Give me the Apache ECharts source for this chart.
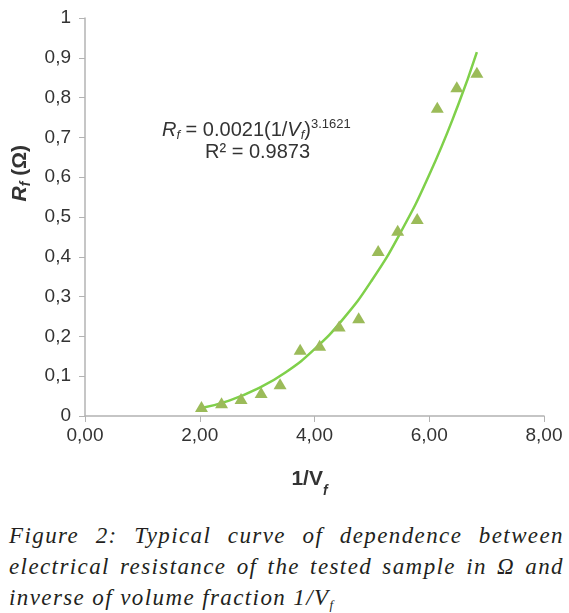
<!DOCTYPE html>
<html>
<head>
<meta charset="utf-8">
<script src="https://cdn.jsdelivr.net/npm/echarts@6/dist/echarts.min.js"></script>
<style>
  html, body { margin: 0; padding: 0; background: #fff; }
  #wrap { position: relative; width: 569px; height: 613px; overflow: hidden; }
  #chart { position: absolute; left: 0; top: 0; width: 569px; height: 505px; }
  #caption {
    position: absolute; left: 9px; top: 520px; width: 555px;
    font-family: "Liberation Serif", serif; font-style: italic;
    font-size: 23px; line-height: 31px; color: #231f20;
    text-align: justify; letter-spacing: 1.4px;
  }
  #caption sub { font-size: 13px; vertical-align: -4px; line-height: 0; }
</style>
</head>
<body>
<div id="wrap">
  <div id="chart"></div>
  <div id="caption">Figure 2: Typical curve of dependence between electrical resistance of the tested sample in &Omega; and inverse of volume fraction 1/V<sub>f</sub></div>
</div>
<script>
// measured points (1/Vf, Rf)
var invVf = [2.03, 2.38, 2.72, 3.07, 3.40, 3.75, 4.09, 4.43, 4.77, 5.11, 5.45, 5.79, 6.14, 6.48, 6.83]
var rf = [0.024, 0.033, 0.044, 0.059, 0.081, 0.168, 0.178, 0.226, 0.247, 0.416, 0.467, 0.496, 0.776, 0.827, 0.864]

// power trendline
var trendX = [2.03, 2.5, 3.0, 3.5, 4.0, 4.5, 5.0, 5.5, 6.0, 6.5, 6.83]
var trendY = [0.020, 0.038, 0.068, 0.110, 0.168, 0.244, 0.341, 0.461, 0.606, 0.780, 0.914]

var xTicks = ['0,00', '2,00', '4,00', '6,00', '8,00']
var yTicks = ['0', '0,1', '0,2', '0,3', '0,4', '0,5', '0,6', '0,7', '0,8', '0,9', '1']

var chart = echarts.init(document.getElementById('chart'))

var axisGray = '#b3b3b3'
var txt = '#333333'
var font = 'Liberation Sans'

chart.setOption({
  animation: false,
  textStyle: { fontFamily: font },
  grid: {
    left: 85,
    right: 25,
    top: 18,
    bottom: 89
  },
  xAxis: {
    type: 'value',
    min: 0,
    max: 8,
    interval: 2,
    name: '{b|1/V}{s|f}',
    nameLocation: 'middle',
    nameGap: 50,
    nameTextStyle: {
      padding: [0, 10, 0, 0],
      rich: {
        b: { fontFamily: font, fontWeight: 'bold', fontSize: 21, color: txt, lineHeight: 26, verticalAlign: 'middle' },
        s: { fontFamily: font, fontWeight: 'bold', fontStyle: 'italic', fontSize: 14, color: txt, verticalAlign: 'bottom', lineHeight: 14, padding: [0, 0, -6, 0] }
      }
    },
    axisLine: { lineStyle: { color: axisGray, width: 1.5 } },
    axisTick: { show: true, length: 6, lineStyle: { color: axisGray } },
    axisLabel: {
      fontSize: 19,
      color: txt,
      margin: 10,
      formatter: function (value) {
        return xTicks[Math.round(value / 2)]
      }
    },
    splitLine: { show: false }
  },
  yAxis: {
    type: 'value',
    min: 0,
    max: 1,
    interval: 0.1,
    axisLine: { show: true, lineStyle: { color: axisGray, width: 1.5 } },
    axisTick: { show: true, length: 6, lineStyle: { color: axisGray } },
    axisLabel: {
      fontSize: 19,
      color: txt,
      margin: 14,
      formatter: function (value) {
        return yTicks[Math.round(value * 10)]
      }
    },
    splitLine: { show: false }
  },
  graphic: [
    {
      type: 'text',
      left: 10,
      top: 145,
      rotation: Math.PI / 2,
      style: {
        text: '{r|R}{s|f}{b| (Ω)}',
        rich: {
          r: { fontFamily: font, fontWeight: 'bold', fontStyle: 'italic', fontSize: 21, fill: txt, lineHeight: 26 },
          s: { fontFamily: font, fontWeight: 'bold', fontStyle: 'italic', fontSize: 14, fill: txt, verticalAlign: 'bottom', lineHeight: 14 },
          b: { fontFamily: font, fontWeight: 'bold', fontSize: 21, fill: txt, lineHeight: 26 }
        }
      }
    },
    {
      type: 'text',
      left: 162,
      top: 118,
      style: {
        text: '{i|R}{s|f}{n| = 0.0021(1/}{i|V}{s|f}{n|)}{p|3.1621}',
        rich: {
          i: { fontFamily: font, fontStyle: 'italic', fontSize: 20, fill: txt, lineHeight: 24 },
          n: { fontFamily: font, fontSize: 20, fill: txt, lineHeight: 24 },
          s: { fontFamily: font, fontStyle: 'italic', fontSize: 13, fill: txt, verticalAlign: 'bottom', lineHeight: 14 },
          p: { fontFamily: font, fontSize: 13, fill: txt, verticalAlign: 'top', lineHeight: 14 }
        }
      }
    },
    {
      type: 'text',
      left: 205,
      top: 142,
      style: {
        text: 'R² = 0.9873',
        fontFamily: font,
        fontSize: 20,
        fill: txt
      }
    }
  ],
  series: [
    {
      name: 'trend',
      type: 'line',
      smooth: true,
      showSymbol: false,
      silent: true,
      data: trendX.map(function (x, i) { return [x, trendY[i]] }),
      lineStyle: { color: '#7fd04a', width: 2.5 },
      z: 2
    },
    {
      name: 'Rf',
      type: 'scatter',
      symbol: 'triangle',
      symbolSize: [13, 11],
      data: invVf.map(function (x, i) { return [x, rf[i]] }),
      itemStyle: { color: '#9bbb59', opacity: 1 },
      z: 3
    }
  ]
})
</script>
</body>
</html>
